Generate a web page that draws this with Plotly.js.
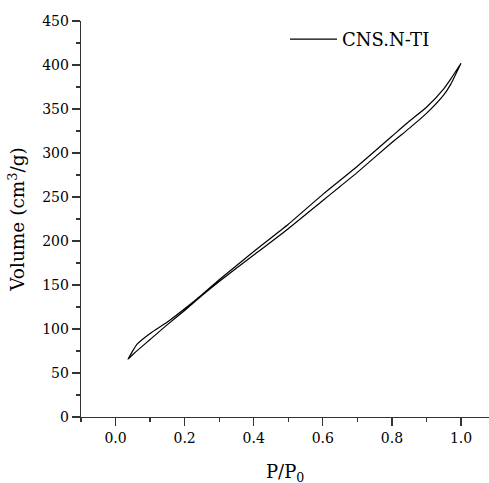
<!DOCTYPE html>
<html>
<head>
<meta charset="utf-8">
<script src="https://cdn.plot.ly/plotly-3.0.1.min.js"></script>
<style>html,body{margin:0;padding:0;background:#fff;}#chart{width:489px;height:483px;}</style>
</head>
<body>
<div id="chart"></div>
<script>
// Adsorption branch (ascending P/P0)
const adsP = [0.036, 0.05, 0.07, 0.1, 0.15, 0.2, 0.25, 0.3, 0.4, 0.5, 0.6, 0.65, 0.7, 0.8, 0.85, 0.9, 0.95, 0.97, 1.0];
const adsV = [65.6, 71, 78, 88, 105, 121, 138, 154, 184, 214, 246, 262, 278, 312, 328, 345, 366, 378, 402];
// Desorption branch (descending P/P0)
const desP = [1.0, 0.97, 0.95, 0.9, 0.85, 0.8, 0.7, 0.65, 0.6, 0.5, 0.4, 0.3, 0.25, 0.2, 0.15, 0.1, 0.063, 0.036];
const desV = [402, 384, 373, 352, 336, 319, 285, 269, 253, 219, 188, 156, 139, 123, 108, 95, 83, 65.6];
const seriesName = 'CNS.N-TI';
const xTitle = 'P/P<sub>0</sub>';
const yTitle = 'Volume (cm<sup>3</sup>/g)';

const font = 'DejaVu Serif';
const axColor = '#333';

const trace = {
  x: adsP.concat(desP),
  y: adsV.concat(desV),
  mode: 'lines',
  name: seriesName,
  line: {color: '#000', width: 1.2, shape: 'spline', smoothing: 0.5},
  showlegend: true
};

const layout = {
  width: 489, height: 483,
  margin: {l: 81, r: 0, t: 21, b: 66},
  paper_bgcolor: '#fff', plot_bgcolor: '#fff',
  font: {family: font, color: '#000', size: 14},
  showlegend: true,
  legend: {x: 0.5, y: 1.0, xanchor: 'left', yanchor: 'top', bgcolor: 'rgba(0,0,0,0)',
           font: {family: font, size: 18, color: '#000'}, itemwidth: 47},
  xaxis: {
    range: [-0.1, 1.081], showgrid: false, zeroline: false,
    showline: true, linecolor: axColor, linewidth: 1.3,
    ticks: 'outside', ticklen: 8, tickwidth: 1.3, tickcolor: axColor,
    tick0: 0, dtick: 0.2, tickformat: '.1f',
    minor: {ticks: 'outside', ticklen: 4, tickwidth: 1.3, tickcolor: axColor, dtick: 0.1, showgrid: false},
    tickfont: {family: font, size: 14, color: '#000'}
  },
  yaxis: {
    range: [0, 450], showgrid: false, zeroline: false,
    showline: true, linecolor: axColor, linewidth: 1.3,
    ticks: 'outside', ticklen: 8, tickwidth: 1.3, tickcolor: axColor,
    tick0: 0, dtick: 50,
    minor: {ticks: 'outside', ticklen: 4, tickwidth: 1.3, tickcolor: axColor, dtick: 25, showgrid: false},
    tickfont: {family: font, size: 14, color: '#000'},
    title: {text: yTitle, font: {family: font, size: 18.5, color: '#000'}, standoff: 12}
  },
  annotations: [{
    text: xTitle, xref: 'paper', yref: 'paper', x: 0.5, y: -0.105,
    xanchor: 'center', yanchor: 'top', showarrow: false,
    font: {family: font, size: 18, color: '#000'}
  }]
};

Plotly.newPlot('chart', [trace], layout, {displayModeBar: false, staticPlot: true});
</script>
</body>
</html>
